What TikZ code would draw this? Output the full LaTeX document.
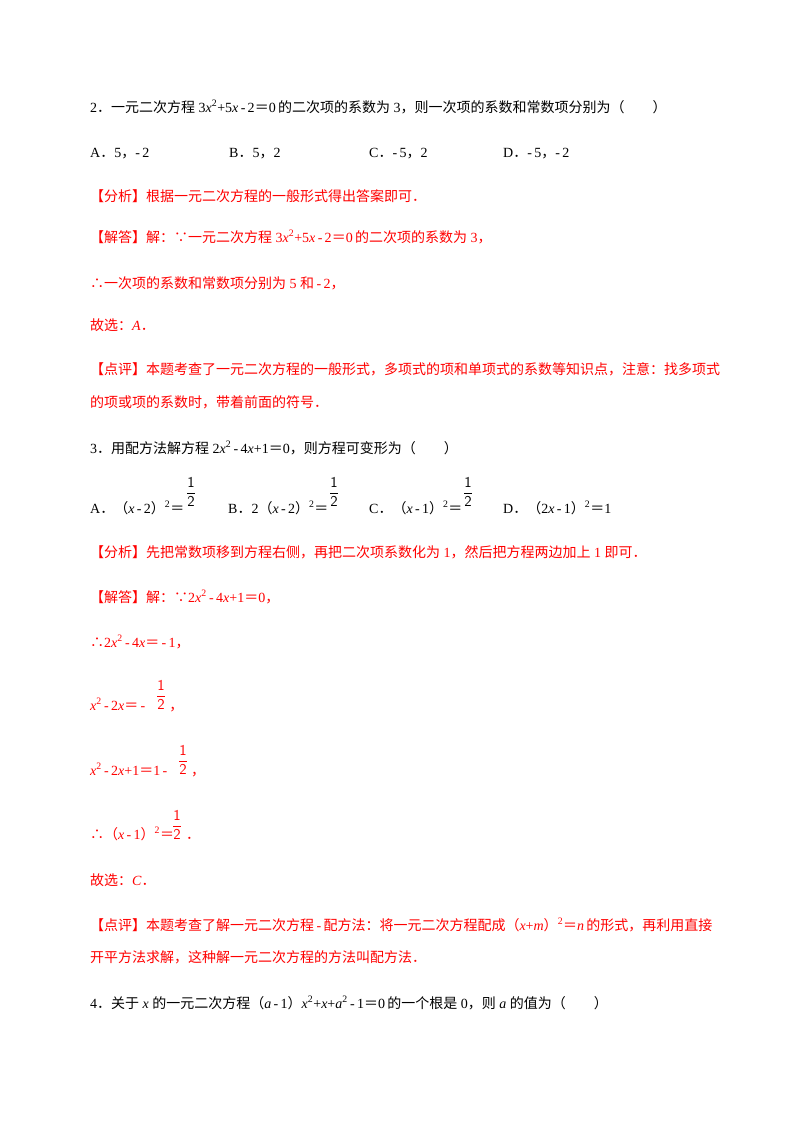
\documentclass[tikz,border=0pt]{standalone}
\usepackage{fontspec}
\setmainfont{Liberation Serif}
\newfontfamily\cjk{Noto Sans CJK SC}
\newcommand\zh[1]{{\cjk #1}}
\newcommand\mi[1]{\textit{#1}}
\definecolor{rd}{RGB}{255,0,0}
\begin{document}
\begin{tikzpicture}[x=1pt,y=-1pt,
  t/.style={anchor=base west,inner sep=0pt,font=\fontsize{14}{16}\selectfont},
  r/.style={t,text=rd},
  f/.style={anchor=west,inner sep=0pt,font=\fontsize{15}{15}\selectfont}]
\useasboundingbox[fill=white] (0,0) rectangle (800,1132);
\newcommand\half{$\displaystyle\mathsf{\frac{1}{2}}$}
\node[t] (q2) at (90,112) {2\zh{．一元二次方程} 3\mi{x}\textsuperscript{2}+5\mi{x}\,-\,2\zh{＝}0\,\zh{的二次项的系数为} 3\zh{，则一次项的系数和常数项分别为（　　）}};
\node[t] (a2) at (90,157) {A\zh{．}5\zh{，}-\,2};
\node[t] (b2) at (229,157) {B\zh{．}5\zh{，}2};
\node[t] (c2) at (369,157) {C\zh{．}-\,5\zh{，}2};
\node[t] (d2) at (503,157) {D\zh{．}-\,5\zh{，}-\,2};
\node[r] (fx2) at (90,201) {\zh{【分析】根据一元二次方程的一般形式得出答案即可．}};
\node[r] (jd2) at (90,242) {\zh{【解答】解：∵一元二次方程} 3\mi{x}\textsuperscript{2}+5\mi{x}\,-\,2\zh{＝}0\,\zh{的二次项的系数为} 3\zh{，}};
\node[r] (s2) at (90,288) {\zh{∴一次项的系数和常数项分别为} 5 \zh{和}\,-\,2\zh{，}};
\node[r] (g2) at (90,330) {\zh{故选：}\mi{A}\zh{．}};
\node[r] (dp2) at (90,374) {\zh{【点评】本题考查了一元二次方程的一般形式，多项式的项和单项式的系数等知识点，注意：找多项式}};
\node[r] (dp2b) at (90,407) {\zh{的项或项的系数时，带着前面的符号．}};
\node[t] (q3) at (90,453) {3\zh{．用配方法解方程} 2\mi{x}\textsuperscript{2}\,-\,4\mi{x}+1\zh{＝}0\zh{，则方程可变形为（　　）}};
\node[t] (a3) at (90,513) {A\zh{．（}\mi{x}\,-\,2\zh{）}\textsuperscript{2}\zh{＝}};
\node[f] (fa) at (186,492) {\half};
\node[t] (b3) at (228,513) {B\zh{．}2\zh{（}\mi{x}\,-\,2\zh{）}\textsuperscript{2}\zh{＝}};
\node[f] (fb) at (329,492) {\half};
\node[t] (c3) at (369,513) {C\zh{．（}\mi{x}\,-\,1\zh{）}\textsuperscript{2}\zh{＝}};
\node[f] (fc) at (463,492) {\half};
\node[t] (d3) at (503,513) {D\zh{．（}2\mi{x}\,-\,1\zh{）}\textsuperscript{2}\zh{＝}1};
\node[r] (fx3) at (90,557) {\zh{【分析】先把常数项移到方程右侧，再把二次项系数化为} 1\zh{，然后把方程两边加上} 1 \zh{即可．}};
\node[r] (jd3) at (90,602) {\zh{【解答】解：∵}2\mi{x}\textsuperscript{2}\,-\,4\mi{x}+1\zh{＝}0\zh{，}};
\node[r] (l1) at (90,647) {\zh{∴}2\mi{x}\textsuperscript{2}\,-\,4\mi{x}\zh{＝}\,-\,1\zh{，}};
\node[r] (l2) at (90,710) {\mi{x}\textsuperscript{2}\,-\,2\mi{x}\zh{＝}\,-\hspace{24pt}\zh{，}};
\node[f,text=rd] (f2) at (156,695) {\half};
\node[r] (l3) at (90,775) {\mi{x}\textsuperscript{2}\,-\,2\mi{x}+1\zh{＝}1\,-\hspace{24pt}\zh{，}};
\node[f,text=rd] (f3) at (178,760) {\half};
\node[r] (l4) at (90,839) {\zh{∴（}\mi{x}\,-\,1\zh{）}\textsuperscript{2}\zh{＝}\hspace{12pt}\zh{．}};
\node[f,text=rd] (f4) at (172,825) {\half};
\node[r] (g3) at (90,885) {\zh{故选：}\mi{C}\zh{．}};
\node[r] (dp3) at (90,930) {\zh{【点评】本题考查了解一元二次方程}\,-\,\zh{配方法：将一元二次方程配成（}\mi{x}+\mi{m}\zh{）}\textsuperscript{2}\zh{＝}\mi{n}\,\zh{的形式，再利用直接}};
\node[r] (dp3b) at (90,962) {\zh{开平方法求解，这种解一元二次方程的方法叫配方法．}};
\node[t] (q4) at (90,1008) {4\zh{．关于} \mi{x} \zh{的一元二次方程（}\mi{a}\,-\,1\zh{）}\mi{x}\textsuperscript{2}+\mi{x}+\mi{a}\textsuperscript{2}\,-\,1\zh{＝}0\,\zh{的一个根是} 0\zh{，则} \mi{a} \zh{的值为（　　）}};
\end{tikzpicture}
\end{document}
